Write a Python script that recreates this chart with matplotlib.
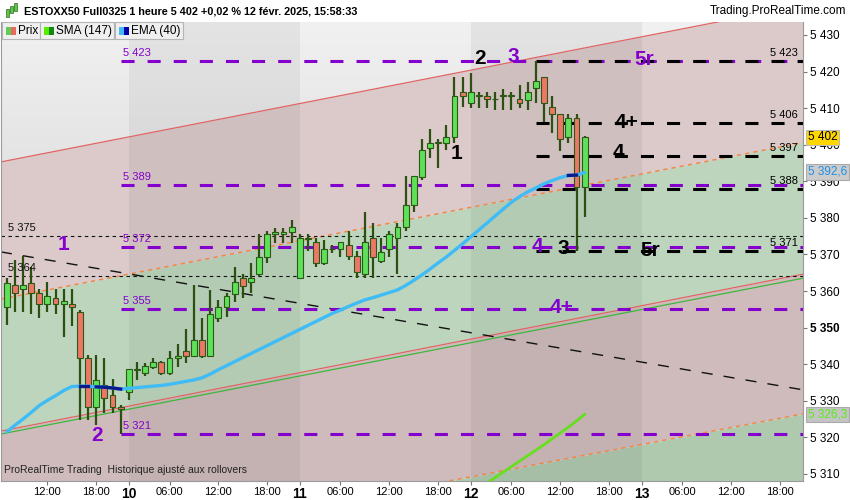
import matplotlib
matplotlib.use('Agg')
import matplotlib.pyplot as plt
from matplotlib.patches import Rectangle
import numpy as np

plt.rcParams['font.family'] = ['Liberation Sans', 'DejaVu Sans']
plt.rcParams['lines.scale_dashes'] = False

W, H = 850, 500

# bar number: 0 = Mon 10 Feb 01:00 bar, 21 hourly bars per session (01:00-21:00)
bars = list(range(-15, 57))
opens = [5355.6, 5361.7, 5360.5, 5362.3, 5359.4, 5356.4, 5358.1, 5356.4, 5356.4, 5354.4, 5341.6, 5328.4, 5334.3, 5331.6, 5328.4,
         5332.5, 5338.5, 5337.5, 5339.3, 5340.5, 5337.5, 5341.6, 5343.6, 5342.3, 5346.6, 5342.3, 5352.6, 5355.6, 5359.2, 5363.5,
         5362.4, 5364.6, 5369.4, 5375.5, 5375.5, 5376.2,
         5363.5, 5374.3, 5373.3, 5367.6, 5371.4, 5371.4, 5372.6, 5369.6, 5364.6, 5374.4, 5368.3, 5371.4, 5374.4, 5377.4, 5383.5,
         5391.3, 5399.2, 5400.5, 5400.4, 5402.2, 5414.3,
         5411.3, 5413.3, 5413.3, 5412.4, 5413.3, 5413.3, 5412.4, 5412.2, 5415.4, 5418.4, 5410.2, 5408.3, 5402.2, 5407.2, 5388.5]
highs = [5363.6, 5368.5, 5369.6, 5366.6, 5360.5, 5362.6, 5360.5, 5360.5, 5360.5, 5354.8, 5342.5, 5342.5, 5341.6, 5336.0, 5328.8,
         5338.8, 5340.7, 5340.2, 5341.8, 5341.0, 5343.6, 5345.5, 5349.5, 5361.7, 5352.6, 5360.3, 5357.5, 5359.6, 5366.5, 5364.6,
         5367.6, 5375.5, 5376.3, 5377.1, 5377.1, 5379.4,
         5375.5, 5375.5, 5374.4, 5374.0, 5372.6, 5373.5, 5376.4, 5371.0, 5381.7, 5378.7, 5374.4, 5376.4, 5378.5, 5391.5, 5391.5,
         5401.6, 5404.3, 5401.6, 5405.4, 5418.6, 5418.6,
         5419.5, 5414.3, 5414.3, 5414.3, 5415.3, 5414.3, 5416.3, 5417.2, 5423.0, 5418.4, 5413.3, 5408.3, 5408.3, 5408.3, 5402.4]
lows = [5350.7, 5354.4, 5354.4, 5353.7, 5352.6, 5354.4, 5353.7, 5347.5, 5350.4, 5324.8, 5324.8, 5323.4, 5326.6, 5326.6, 5321.0,
        5330.2, 5335.7, 5336.8, 5338.6, 5337.0, 5337.0, 5339.3, 5340.2, 5342.0, 5341.6, 5342.0, 5351.5, 5353.0, 5357.0, 5358.0,
        5359.4, 5364.0, 5367.6, 5373.0, 5373.0, 5373.0,
        5363.5, 5371.0, 5366.5, 5367.0, 5370.4, 5369.4, 5368.6, 5363.5, 5363.5, 5363.5, 5367.6, 5369.4, 5364.6, 5376.5, 5381.5,
        5390.4, 5396.3, 5393.6, 5398.6, 5400.4, 5410.4,
        5410.1, 5410.1, 5410.1, 5409.6, 5409.6, 5409.6, 5410.1, 5409.6, 5411.3, 5406.3, 5403.3, 5398.4, 5400.4, 5371.0, 5380.3]
closes = [5362.3, 5359.4, 5361.7, 5359.4, 5356.4, 5358.6, 5356.4, 5357.4, 5355.6, 5341.6, 5328.4, 5335.7, 5330.7, 5328.4, 5327.7,
          5338.6, 5338.7, 5339.5, 5340.5, 5337.5, 5341.6, 5342.3, 5342.3, 5346.6, 5342.3, 5353.7, 5355.6, 5358.6, 5362.4, 5361.5,
          5363.5, 5369.4, 5375.5, 5376.2, 5376.2, 5377.4,
          5374.4, 5374.5, 5367.6, 5371.5, 5371.6, 5373.3, 5369.6, 5365.3, 5373.3, 5369.4, 5370.6, 5375.5, 5377.4, 5383.5, 5391.5,
          5398.6, 5400.4, 5400.7, 5402.2, 5413.3, 5413.3,
          5414.3, 5413.5, 5412.5, 5412.6, 5413.5, 5413.5, 5411.3, 5414.3, 5417.4, 5411.3, 5408.3, 5401.5, 5407.2, 5388.5, 5402.0]

ema40 = [5321.5, 5323.3, 5325.0, 5326.8, 5328.7, 5330.1, 5331.4, 5332.8, 5333.9, 5334.0, 5334.0, 5333.8, 5333.7, 5333.5, 5333.2,
         5333.4, 5333.6, 5333.8, 5334.0, 5334.2, 5334.5, 5334.9, 5335.3, 5335.7, 5336.3, 5337.3, 5338.5, 5339.6, 5340.7, 5341.8,
         5342.9, 5344.0, 5345.1, 5346.2, 5347.3, 5348.4,
         5349.5, 5350.6, 5351.7, 5352.8, 5353.9, 5354.8, 5355.8, 5356.7, 5357.6, 5358.2, 5358.9, 5359.6, 5360.3, 5361.5, 5362.9,
         5364.4, 5366.0, 5367.7, 5369.3, 5371.1, 5372.9,
         5374.8, 5376.7, 5378.6, 5380.5, 5382.4, 5384.3, 5385.8, 5387.1, 5388.2, 5389.3, 5390.2, 5391.0, 5391.6, 5391.7, 5392.4]
ema_dark = [(-6, -5), (-4, -1), (54, 55)]

sma_bars = list(range(44, 57))
sma147 = [5307.6, 5309.0, 5310.5, 5312.0, 5313.5, 5315.0, 5316.5, 5318.0, 5319.6, 5321.2, 5322.8, 5324.5, 5326.3]

tick_pos = [-10, -4, 0, 5, 11, 17, 21, 26, 32, 38, 42, 47, 53, 59, 63, 68, 74, 80]
tick_lbl = ['12:00', '18:00', '10', '06:00', '12:00', '18:00', '11', '06:00', '12:00', '18:00',
            '12', '06:00', '12:00', '18:00', '13', '06:00', '12:00', '18:00']
day_lbl = ['10', '11', '12', '13']
dark_days = [(0, 21), (42, 63)]

purple_levels = [5423, 5389, 5372, 5355, 5321]
black_levels = [5423, 5406, 5397, 5388, 5371]
thin_levels = [5375, 5364]

# channel lines, price at left / right edge
XL, XR = -15.72, 82.8
YB, YT = 5308.07, 5433.55
mid_line = [5357.8, 5400.6]
upper_red = [5395.3, 5438.1]
lower_red = [5321.7, 5364.6]
lower_green = [5320.9, 5363.5]
lower_orange = [5284.9, 5326.4]
trend_black = [5370.7, 5333.0]

# wave counts: (text, bar, price, colour)
waves = [('1', -8.0, 5372.6, 'p'), ('2', -3.9, 5320.4, 'p'), ('2', 43.2, 5423.7, 'k'), ('3', 47.2, 5424.0, 'p'),
         ('1', 40.2, 5397.7, 'k'), ('4', 50.2, 5372.3, 'p'), ('3', 53.4, 5371.5, 'k'), ('5r', 63.3, 5423.2, 'p'),
         ('4+', 61.2, 5406.0, 'k'), ('4', 60.2, 5398.0, 'k'), ('5r', 64.1, 5371.2, 'k'), ('4+', 53.1, 5355.4, 'p')]

PURPLE = '#8400cc'


def fx(px):
    return px / W


def fy(py):
    return 1 - py / H


def fmt(v):
    s = f'{v:,.0f}' if v == int(v) else f'{v:,.1f}'
    return s.replace(',', ' ').replace('.', ',')


fig = plt.figure(figsize=(8.5, 5), dpi=100)
ax = fig.add_axes([0.001, 19 / H, 802 / W, 459 / H])
ax.set_xlim(XL, XR)
ax.set_ylim(YB, YT)

xs = np.array([XL, XR])
# light grey gradient above the channel
grad = np.linspace(0, 1, 64).reshape(-1, 1)
ax.imshow(grad, extent=[XL, XR, 5390, YT], origin='lower', aspect='auto',
          cmap=matplotlib.colors.LinearSegmentedColormap.from_list('g', ['#e2e2e2', '#f1f1f1']), zorder=0)
ax.fill_between(xs, mid_line, upper_red, color='#dccaca', lw=0, zorder=0.2)
ax.fill_between(xs, lower_red, mid_line, color='#bdd5bd', lw=0, zorder=0.2)
ax.fill_between(xs, lower_orange, lower_red, color='#cfbbbb', lw=0, zorder=0.2)
ax.fill_between(xs, [YB - 80, YB - 80], lower_orange, color='#afc9af', lw=0, zorder=0.2)
ax.fill_between(xs, [5380, 5380], mid_line, color='#dccaca', lw=0, zorder=0.1)
for a, b in dark_days:
    ax.axvspan(a, b, color='black', alpha=0.05, lw=0, zorder=0.5)

ax.plot(xs, upper_red, color='#e06464', lw=0.9, zorder=1)
ax.plot(xs, lower_red, color='#e06464', lw=0.9, zorder=1)
ax.plot(xs, lower_green, color='#3cb83c', lw=0.9, zorder=1)
ax.plot(xs, mid_line, color='#f08848', lw=1.1, dashes=(3, 3), zorder=1)
ax.plot(xs, lower_orange, color='#f08848', lw=1.1, dashes=(3, 3), zorder=1)
ax.plot(xs, trend_black, color='#111111', lw=1.0, dashes=(8, 8), zorder=1)

for lv in thin_levels:
    ax.axhline(lv, color='#111111', lw=0.8, dashes=(2.5, 2.5), zorder=1.5)
    ax.text(XL + 0.9, lv + 0.8, fmt(lv), fontsize=8, color='#111111', va='bottom', ha='left', zorder=6)

for lv in purple_levels:
    ax.plot([-1, XR], [lv, lv], color=PURPLE, lw=2.2, dashes=(9.4, 9.4), zorder=2)
    ax.text(-0.75, lv + 0.8, fmt(lv), fontsize=8, color=PURPLE, va='bottom', ha='left', zorder=6)
for lv in black_levels:
    ax.plot([50, XR], [lv, lv], color='black', lw=2.2, dashes=(9.4, 9.4), zorder=2.1)
    ax.text(78.8, lv + 0.8, fmt(lv), fontsize=8, color='black', va='bottom', ha='left', zorder=6)

# candles
o = np.array(opens)
c = np.array(closes)
up = c >= o
body_lo = np.minimum(o, c)
body_h = np.maximum(np.abs(c - o), 0.12)
ax.vlines(bars, lows, highs, color='#2c4f12', lw=1.6, zorder=3)
ax.bar(bars, body_h, bottom=body_lo, width=0.72,
       color=np.where(up, '#5ee05a', '#ec7767'), edgecolor='#2c5a14', lw=0.8, zorder=3.2)

# moving averages
ax.plot(bars, ema40, color='#3fbcf5', lw=2.4, zorder=4, solid_capstyle='round')
for a, b in ema_dark:
    i0, i1 = bars.index(a), bars.index(b)
    ax.plot(bars[i0:i1 + 1], ema40[i0:i1 + 1], color='#0a1a8c', lw=2.4, zorder=4.1)
ax.plot(sma_bars, sma147, color='#66e01e', lw=2.0, zorder=4)

for txt, bx, py, col in waves:
    ax.text(bx, py, txt, fontsize=15, fontweight='bold', ha='center', va='center',
            color=PURPLE if col == 'p' else 'black', zorder=6)

# axes styling
ax.yaxis.tick_right()
yt = list(range(5310, 5431, 10))
ax.set_yticks(yt)
ax.set_yticklabels([fmt(v) for v in yt], fontsize=8.5)
for lab in ax.get_yticklabels():
    if lab.get_text() == '5 350':
        lab.set_fontweight('bold')
ax.tick_params(axis='y', length=3, color='#777777', pad=2)
ax.set_xticks(tick_pos)
ax.set_xticklabels(tick_lbl, fontsize=8)
for lab in ax.get_xticklabels():
    if lab.get_text() in day_lbl:
        lab.set_fontweight('bold')
        lab.set_fontsize(10)
ax.tick_params(axis='x', length=3, color='#777777', pad=1)
for sp in ax.spines.values():
    sp.set_color('#9a9a9a')
    sp.set_linewidth(0.8)
ax.spines['top'].set_visible(False)

# value boxes on the price scale
tr = ax.get_yaxis_transform()
ax.text(1.006, 5402, '5 402', transform=tr, fontsize=8.5, color='black', va='center', ha='left', zorder=7,
        bbox=dict(boxstyle='square,pad=0.15', fc='#ffd700', ec='#bbbbbb', lw=0.8))
ax.text(1.006, 5392.6, '5 392,6', transform=tr, fontsize=8.5, color='#1e8fe6', va='center', ha='left', zorder=7,
        bbox=dict(boxstyle='square,pad=0.15', fc='#cccccc', ec='#aaaaaa', lw=0.8))
ax.text(1.006, 5326.3, '5 326,3', transform=tr, fontsize=8.5, color='#55ee11', va='center', ha='left', zorder=7,
        bbox=dict(boxstyle='square,pad=0.15', fc='#c4c4c4', ec='#aaaaaa', lw=0.8))

ax.text(0.004, 0.012, 'ProRealTime Trading  Historique ajusté aux rollovers', transform=ax.transAxes,
        fontsize=7.5, color='#222222', ha='left', va='bottom', zorder=7)

# header
fig.text(fx(24), fy(11), 'ESTOXX50 Full0325 1 heure 5 402 +0,02 % 12 févr. 2025, 15:58:33',
         fontsize=7.8, fontweight='bold', va='center', ha='left')
fig.text(fx(846), fy(11), 'Trading.ProRealTime.com', fontsize=8.5, va='center', ha='right')
for (x0, y0, w, h, col) in [(6, 9, 3, 8, '#55cc44'), (10, 6, 3, 7, '#55cc44'), (14, 3, 3, 8, '#55cc44')]:
    fig.patches.append(Rectangle((fx(x0), fy(y0 + h)), fx(w), h / H, transform=fig.transFigure,
                                 fc=col, ec='#336622', lw=0.5))

# legend tabs
tabs = [(2, 38, '#5ecc55', '#e86a5e', 'Prix'), (40, 74, '#55ee00', '#118811', 'SMA (147)'),
        (115, 68, '#44bbff', '#0000aa', 'EMA (40)')]
for x0, w, c1, c2, label in tabs:
    fig.patches.append(Rectangle((fx(x0), fy(39)), fx(w), 17 / H, transform=fig.transFigure,
                                 fc='#efefef', ec='#b5b5b5', lw=0.8, zorder=10))
    fig.patches.append(Rectangle((fx(x0 + 4), fy(35)), fx(5), 8 / H, transform=fig.transFigure,
                                 fc=c1, lw=0, zorder=11))
    fig.patches.append(Rectangle((fx(x0 + 9), fy(35)), fx(5), 8 / H, transform=fig.transFigure,
                                 fc=c2, lw=0, zorder=11))
    fig.text(fx(x0 + 16), fy(31), label, fontsize=8.5, va='center', ha='left', zorder=12)

fig.savefig('out.png', dpi=100)
